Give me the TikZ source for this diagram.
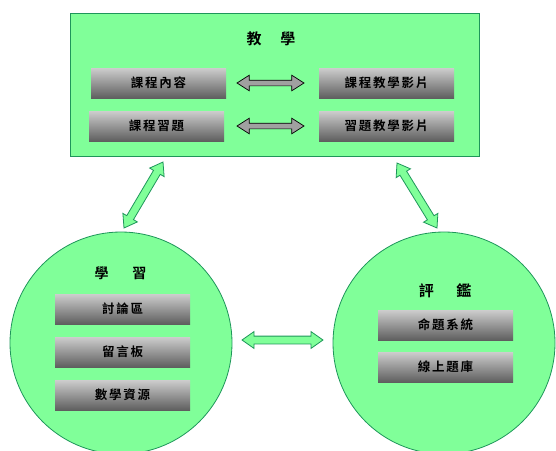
\documentclass[tikz,border=0pt]{standalone}
\usepackage{fontspec}
\newfontfamily\cjk{Noto Sans CJK TC Bold}
\newfontfamily\cjkls{Noto Sans CJK TC Bold}[LetterSpace=14]
\usetikzlibrary{shapes.arrows,calc}
\definecolor{gfill}{RGB}{128,255,153}
\definecolor{gline}{RGB}{30,150,90}
\definecolor{boxtop}{RGB}{205,205,205}
\definecolor{boxbot}{RGB}{95,95,95}
\definecolor{arrgray}{RGB}{160,160,160}
\tikzset{
  graybox/.style={rectangle, top color=boxtop, bottom color=boxbot, minimum width=135pt, minimum height=30pt, inner sep=0pt, font=\cjkls\fontsize{12.5}{14}\selectfont},
  title/.style={font=\cjk\fontsize{15}{17}\selectfont, inner sep=0pt},
  grnarrow/.style={double arrow, draw=gline, fill=gfill, line width=0.8pt, inner sep=3.5pt, double arrow head extend=4.5pt, double arrow tip angle=70, minimum width=0pt},
  grayarrow/.style={double arrow, draw=black, fill=arrgray, line width=0.7pt, inner sep=2.5pt, double arrow head extend=5pt, double arrow tip angle=65, minimum width=0pt}
}
\newcommand{\blockarrow}[3]{%
  \path let \p1=($(#3)-(#2)$), \n1={atan2(\y1,\x1)}, \n2={veclen(\x1,\y1)} in
    node[#1, rotate=\n1, minimum height=\n2] at ($(#2)!0.5!(#3)$) {};}
\begin{document}
\begin{tikzpicture}[x=1pt,y=-1pt]
\useasboundingbox (0,0) rectangle (556,450);
% top panel
\node[draw=gline, fill=gfill, line width=0.9pt, minimum width=409pt, minimum height=143pt, inner sep=0pt] (teach) at (274.5,84.5) {};
\node[title] (tteach) at (271,39) {教\hspace{1.25em}學};
\node[graybox] (b1) at (158.5,83) {課程內容};
\node[graybox] (b2) at (156.5,126) {課程習題};
\node[graybox] (b3) at (386.5,83) {課程教學影片};
\node[graybox] (b4) at (386.5,126) {習題教學影片};
\coordinate (a1l) at (237,83); \coordinate (a1r) at (304,83);
\coordinate (a2l) at (237,126); \coordinate (a2r) at (304,126);
\blockarrow{grayarrow}{a1l}{a1r}
\blockarrow{grayarrow}{a2l}{a2r}
% circles
\node[circle, draw=gline, fill=gfill, line width=0.8pt, minimum size=222pt, inner sep=0pt] (learn) at (121,343) {};
\node[circle, draw=gline, fill=gfill, line width=0.8pt, minimum size=222pt, inner sep=0pt] (eval) at (444,343) {};
\node[title, font=\cjk\fontsize{14}{16}\selectfont] (tlearn) at (120.5,273) {學\hspace{1.7em}習};
\node[title] (teval) at (445,291) {評\hspace{1.5em}鑑};
\node[graybox] (c1) at (122.5,309) {討論區};
\node[graybox] (c2) at (122.5,352) {留言板};
\node[graybox] (c3) at (122.5,395) {數學資源};
\node[graybox] (d1) at (445.5,325) {命題系統};
\node[graybox] (d2) at (445.5,367) {線上題庫};
% connecting arrows
\coordinate (p1) at (124,228); \coordinate (p2) at (163,162);
\coordinate (q1) at (397,163); \coordinate (q2) at (437,228);
\coordinate (r1) at (242,340); \coordinate (r2) at (323,340);
\blockarrow{grnarrow}{p1}{p2}
\blockarrow{grnarrow}{q1}{q2}
\blockarrow{grnarrow}{r1}{r2}
\end{tikzpicture}
\end{document}
